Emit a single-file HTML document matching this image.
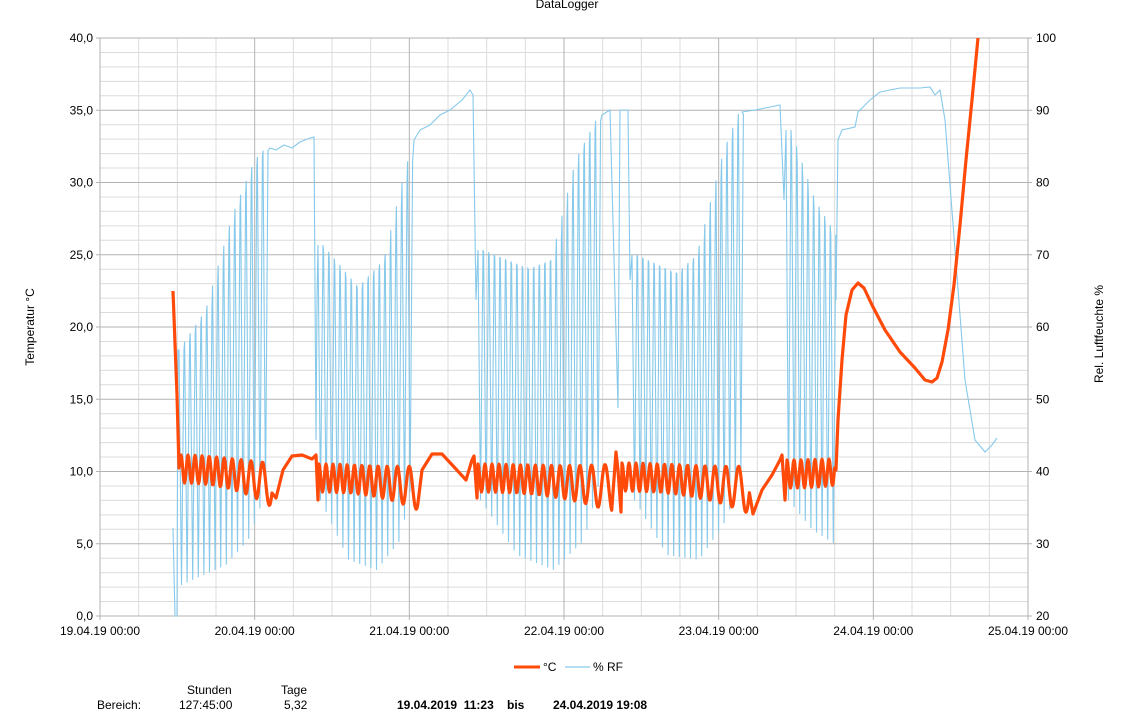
<!DOCTYPE html>
<html><head><meta charset="utf-8"><style>
body{margin:0;background:#fff;font-family:"Liberation Sans",sans-serif;}
svg text{font-family:"Liberation Sans",sans-serif;font-size:12px;fill:#000;}
</style></head><body>
<svg id="s" width="1122" height="720" xmlns="http://www.w3.org/2000/svg">
<rect width="1122" height="720" fill="#fff"/>
<g id="grid"></g>
<text x="567" y="8" text-anchor="middle" font-size="13">DataLogger</text>
<text transform="translate(34,327) rotate(-90)" text-anchor="middle" font-size="11">Temperatur °C</text>
<text transform="translate(1103,334) rotate(-90)" text-anchor="middle" font-size="11">Rel. Luftfeuchte %</text>
<g id="labels"></g>
<polyline id="hum" fill="none" stroke="#87c9ea" stroke-width="1.1"/>
<polyline id="tmp" fill="none" stroke="#ff4a0a" stroke-width="3.2" stroke-linejoin="round"/>
<line x1="514" y1="667" x2="540" y2="667" stroke="#ff4a0a" stroke-width="3"/>
<text x="543" y="671">°C</text>
<line x1="565" y1="667" x2="590" y2="667" stroke="#87c9ea" stroke-width="1.2"/>
<text x="593" y="671">% RF</text>
<text x="187" y="694">Stunden</text>
<text x="281" y="694">Tage</text>
<text x="97" y="709">Bereich:</text>
<text x="179" y="709">127:45:00</text>
<text x="284" y="709">5,32</text>
<text x="397" y="709" font-weight="bold" font-size="11">19.04.2019&#160; 11:23</text>
<text x="507" y="709" font-weight="bold" font-size="11">bis</text>
<text x="553" y="709" font-weight="bold" font-size="11">24.04.2019 19:08</text>
</svg>
<script>
var L=100,R=1028,T=38,B=616,NS="http://www.w3.org/2000/svg";
function el(p,n,a,t){var e=document.createElementNS(NS,n);for(var k in a)e.setAttribute(k,a[k]);if(t!=null)e.textContent=t;p.appendChild(e);return e;}
var g=document.getElementById('grid'),lb=document.getElementById('labels');
var dw=(R-L)/6;
for(var i=0;i<=40;i++){var y=B-i*(B-T)/40;if(i%5)el(g,'line',{x1:L,x2:R,y1:y,y2:y,stroke:'#dcdcdc','stroke-width':1});}
for(var i=0;i<=24;i++){var x=L+i*dw/4;if(i%4)el(g,'line',{x1:x,x2:x,y1:T,y2:B,stroke:'#dcdcdc','stroke-width':1});}
for(var i=0;i<=8;i++){var y=B-i*(B-T)/8;el(g,'line',{x1:L-4,x2:R+4,y1:y,y2:y,stroke:'#b3b3b3','stroke-width':1});
el(lb,'text',{x:L-7,y:y+4,'text-anchor':'end'},(i*5).toFixed(1).replace('.',','));
el(lb,'text',{x:R+8,y:y+4},String(20+i*10));}
var days=['19','20','21','22','23','24','25'];
for(var i=0;i<=6;i++){var x=L+i*dw;el(g,'line',{x1:x,x2:x,y1:T,y2:B+4,stroke:'#b3b3b3','stroke-width':1});
el(lb,'text',{x:x,y:635,'text-anchor':'middle'},days[i]+'.04.19 00:00');}
el(g,'rect',{x:L,y:T,width:R-L,height:B-T,fill:'none',stroke:'#b3b3b3'});
function lerp(a,b,t){return a+(b-a)*t;}
var tp=[[173,291],[177,395],[179,468],[181,455]];
function osc(x0,x1,c0,c1,a0,a1,p0,p1){var ph=0,x=x0;while(x<x1){var t=(x-x0)/(x1-x0);var p=lerp(p0,p1,t*t*t);var c=lerp(c0,c1,t*t),a=lerp(a0,a1,t*t*t);tp.push([x,c-a*Math.cos(ph)]);x+=0.7;ph+=0.7*2*Math.PI/p;}}
osc(181,272,469,485,14,22,7,15);
tp.push([276,498],[283,470],[292,456],[302,455],[312,459],[316,455],[318,500]);
osc(319,418,478,488,14,22,7,15);
tp.push([422,470],[432,454],[442,454],[455,468],[466,480],[472,460],[474,456],[477,498]);
osc(478,612,478,488,14,24,7,16);
tp.push([616,452],[618,470],[621,512]);
osc(622,750,477,490,14,24,7,16);
tp.push([753,514],[762,490],[772,475],[780,460],[782,455],[785,500]);
osc(787,835,474,472,14,13,7,7);
tp.push([836,470],[838,420],[842,360],[846,315],[852,290],[858,283],[864,288],[872,305],[885,330],[900,352],[915,368],[925,380],[932,382],[937,378],[942,362],[948,330],[954,285],[960,225],[966,160],[972,100],[978,38]);
document.getElementById('tmp').setAttribute('points',tp.map(p=>p[0].toFixed(1)+','+p[1].toFixed(1)).join(' '));
var hp=[[173,528],[175,616],[177,616],[178,350]];
function spikes(x0,x1,top,bot,p){for(var x=x0;x<x1;x+=p){var t=(x-x0)/(x1-x0);hp.push([x,top(t)],[x+p*0.45,bot(t)],[x+p*0.9,top(t)]);}}
function env(pts){return function(t){for(var i=1;i<pts.length;i++){if(t<=pts[i][0]){var u=(t-pts[i-1][0])/(pts[i][0]-pts[i-1][0]);return lerp(pts[i-1][1],pts[i][1],u);}}return pts[pts.length-1][1];};}
spikes(179,268,env([[0,350],[0.3,310],[0.6,215],[0.85,160],[1,145]]),env([[0,585],[0.5,565],[0.75,540],[1,480]]),5.6);
hp.push([270,148],[276,150],[284,145],[292,148],[300,142],[310,138],[314,137],[316,440],[317,300]);
spikes(318,412,env([[0,245],[0.4,290],[0.7,260],[0.9,180],[1,145]]),env([[0,500],[0.3,560],[0.6,570],[0.85,540],[1,470]]),5.6);
hp.push([414,140],[420,130],[430,125],[440,115],[450,110],[462,100],[470,90],[473,95],[476,300]);
spikes(478,600,env([[0,250],[0.4,270],[0.6,260],[0.8,160],[1,112]]),env([[0,500],[0.3,555],[0.6,570],[0.85,540],[1,470]]),5.6);
hp.push([602,115],[610,110],[618,408],[620,110],[628,110],[630,280]);
spikes(632,740,env([[0,255],[0.4,275],[0.6,255],[0.85,150],[1,110]]),env([[0,500],[0.3,555],[0.6,560],[0.85,520],[1,470]]),5.6);
hp.push([742,112],[755,110],[765,108],[780,105],[784,200]);
spikes(786,834,env([[0,130],[0.5,200],[1,240]]),env([[0,500],[0.5,530],[1,545]]),5.6);
hp.push([836,300],[838,140],[842,130],[855,127],[858,112],[870,100],[880,92],[900,88],[920,88],[930,87],[935,95],[940,90],[945,120],[955,250],[965,380],[975,440],[985,452],[992,445],[997,438]);
document.getElementById('hum').setAttribute('points',hp.map(p=>p[0].toFixed(1)+','+p[1].toFixed(1)).join(' '));
</script>
</body></html>
